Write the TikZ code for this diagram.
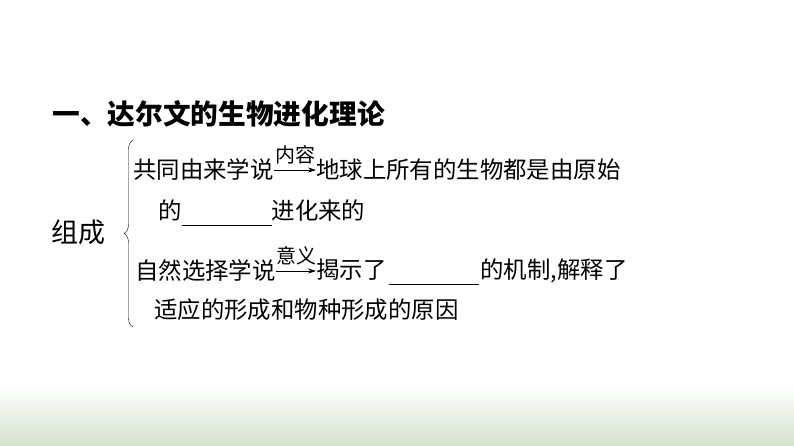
\documentclass[tikz,border=0pt]{standalone}
\usepackage{fontspec}
\setmainfont{Noto Sans CJK SC}
\usetikzlibrary{positioning}
\usetikzlibrary{arrows.meta}
\usetikzlibrary{decorations.pathreplacing}
\definecolor{bandgreen}{RGB}{211,227,205}
\newcommand\gapline{\smash{\rule[-6pt]{90pt}{1pt}}}
\tikzset{
  heading/.style = { font=\fontsize{27.7pt}{30pt}\selectfont\bfseries },
  lead/.style    = { font=\fontsize{27pt}{30pt}\selectfont },
  line/.style    = { font=\fontsize{23.4pt}{26pt}\selectfont },
  tag/.style     = { font=\fontsize{20pt}{22pt}\selectfont },
}

\begin{document}
\begin{tikzpicture}[
  x=1pt,y=-1pt,
  >={Stealth[length=8pt,width=5pt]},semithick,
  every node/.style={inner sep=0pt},
]
  \useasboundingbox (0,0) rectangle (794,446);
  \shade [top color=white,bottom color=bandgreen] (0,385) rectangle (794,446);

  \node (title)    [heading,anchor=west] at (52,114)  {一、达尔文的生物进化理论};
  \node (group)    [lead,anchor=west]    at (51,232)  {组成};

  \node (common)   [line,anchor=west]    at (133,170) {共同由来学说};
  \node (content)  [line,right=42pt of common]      {地球上所有的生物都是由原始};
  \node (content2) [line,anchor=west]    at (158,211) {的\gapline 进化来的};

  \node (natural)  [line,anchor=west]    at (135,271) {自然选择学说};
  \node (meaning)  [line,right=40pt of natural]     {揭示了\hspace{2pt}\gapline\hspace{2pt}的机制,解释了};
  \node (meaning2) [line,anchor=west]    at (154,310) {适应的形成和物种形成的原因};

  \draw [->] (common)  -- (content) node [midway,above=6pt,tag] {内容};
  \draw [->] (natural) -- (meaning) node [midway,above=6pt,tag] {意义};

  \draw [thin,decorate,decoration={brace,amplitude=9pt}] (133,327) -- (133,140);
\end{tikzpicture}
\end{document}
